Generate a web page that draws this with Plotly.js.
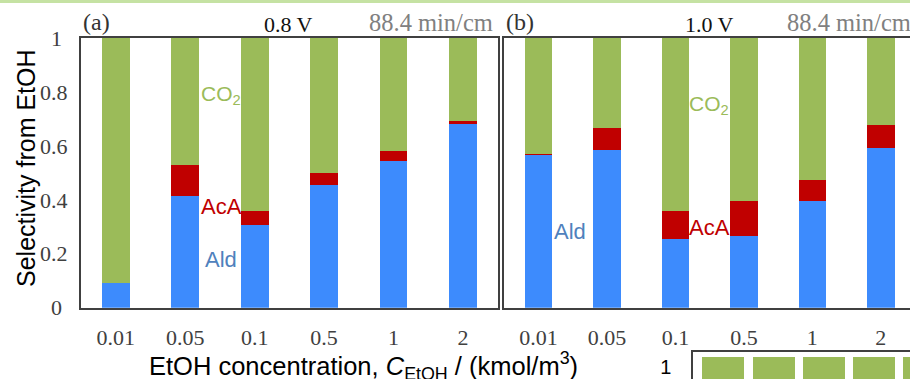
<!DOCTYPE html>
<html>
<head>
<meta charset="utf-8">
<script src="https://cdn.plot.ly/plotly-3.0.1.min.js"></script>
<style>html,body{margin:0;padding:0;background:#fff;}#chart{width:910px;height:379px;}</style>
</head>
<body>
<div id="chart"></div>
<script>
// ---- data ----
const categories = ['0.01', '0.05', '0.1', '0.5', '1', '2'];
// Panel (a) 0.8 V
const ald_a = [0.092, 0.415, 0.305, 0.455, 0.544, 0.681];
const aca_a = [0.000, 0.114, 0.055, 0.043, 0.037, 0.012];
const co2_a = [0.908, 0.471, 0.640, 0.502, 0.419, 0.307];
// Panel (b) 1.0 V
const ald_b = [0.566, 0.585, 0.254, 0.266, 0.397, 0.591];
const aca_b = [0.004, 0.082, 0.106, 0.130, 0.075, 0.088];
const co2_b = [0.430, 0.333, 0.640, 0.604, 0.528, 0.321];
// Partial panel visible at bottom right (only top of stacks visible)
const categories_c = ['0.01', '0.05', '0.1', '0.5', '1'];
const co2_c_top = [1, 1, 1, 1, 1];
const yTickVals = [0, 0.2, 0.4, 0.6, 0.8, 1];
const yTickText = ['0\u2008', '0.2', '0.4', '0.6', '0.8', '1\u2008'];

// ---- style ----
const W = 910, H = 379;
const px = x => x / W;
const py = y => 1 - y / H;
const BLUE = '#3d8bfd', RED = '#c00000', GREEN = '#9bbb59';
const SERIF = 'Liberation Serif, Times New Roman, serif';
const SANS = 'Liberation Sans, Arial, sans-serif';
const AXC = '#404040';

function stack(x, ys, names, colors, xa, ya, width) {
  return ys.map((y, i) => ({
    type: 'bar', x: x, y: y, name: names[i], xaxis: xa, yaxis: ya,
    width: width, marker: {color: colors[i], line: {width: 0}},
    showlegend: false, hoverinfo: 'x+y+name'
  }));
}

const names = ['Ald', 'AcA', 'CO2'];
const colors = [BLUE, RED, GREEN];
const data = [
  ...stack(categories, [ald_a, aca_a, co2_a], names, colors, 'x', 'y', 0.4),
  ...stack(categories, [ald_b, aca_b, co2_b], names, colors, 'x2', 'y2', 0.4),
  {type: 'bar', x: categories_c, y: co2_c_top, name: 'CO2', xaxis: 'x3', yaxis: 'y3',
   width: 0.835, marker: {color: GREEN, line: {width: 0}}, showlegend: false}
];

const yMain = [py(307.7), py(38)];
const tickFont = {family: SERIF, size: 22, color: AXC};

const layout = {
  width: W, height: H,
  margin: {l: 0, r: 0, t: 0, b: 0},
  paper_bgcolor: '#ffffff', plot_bgcolor: 'rgba(0,0,0,0)',
  barmode: 'stack',
  showlegend: false,
  xaxis: {
    domain: [px(81), px(497.7)], range: [-0.5, 5.5], type: 'category',
    showline: true, linecolor: AXC, linewidth: 2, mirror: true,
    showgrid: false, zeroline: false, ticks: '', tickfont: tickFont,
    ticklabelstandoff: 9, anchor: 'y'
  },
  yaxis: {
    domain: yMain, range: [0, 1], tickvals: yTickVals, ticktext: yTickText,
    showline: true, linecolor: AXC, linewidth: 2, mirror: true,
    showgrid: false, zeroline: false, ticks: '', tickfont: tickFont,
    ticklabelstandoff: 7, anchor: 'x'
  },
  xaxis2: {
    domain: [px(504.3), 1], range: [-0.5, 5.426], type: 'category',
    showline: true, linecolor: AXC, linewidth: 2, mirror: true,
    showgrid: false, zeroline: false, ticks: '', tickfont: tickFont,
    ticklabelstandoff: 9, anchor: 'y2'
  },
  yaxis2: {
    domain: yMain, range: [0, 1], tickvals: yTickVals, showticklabels: false,
    showline: true, linecolor: AXC, linewidth: 2, mirror: false,
    showgrid: false, zeroline: false, ticks: '', anchor: 'x2'
  },
  xaxis3: {
    domain: [px(693.3), 1], range: [-0.595, 3.714], type: 'category',
    side: 'top', showline: true, linecolor: AXC, linewidth: 2,
    showgrid: false, zeroline: false, ticks: '', showticklabels: false, anchor: 'y3'
  },
  yaxis3: {
    domain: [0, py(352.3)], range: [0.9, 1.02], tickvals: [1], ticktext: ['1'],
    showline: true, linecolor: AXC, linewidth: 2,
    showgrid: false, zeroline: false, ticks: '',
    tickfont: {family: SANS, size: 20, color: '#000'},
    ticklabelstandoff: 16, ticklabelshift: 10, anchor: 'x3'
  },
  shapes: [
    {type: 'rect', xref: 'paper', yref: 'paper', x0: 0, x1: 1, y0: py(3), y1: 1,
     fillcolor: '#c5e2a3', line: {width: 0}, layer: 'above'}
  ],
  annotations: [
    {text: '(a)', x: px(96), y: py(22), font: {family: SERIF, size: 24, color: '#333'}},
    {text: '0.8 V', x: px(288), y: py(24), font: {family: SERIF, size: 22, color: '#111'}},
    {text: '88.4 min/cm', x: px(367), xanchor: 'left', y: py(22), font: {family: SERIF, size: 24.5, color: '#808080'}},
    {text: '(b)', x: px(520), y: py(22), font: {family: SERIF, size: 24, color: '#333'}},
    {text: '1.0 V', x: px(709), y: py(24), font: {family: SERIF, size: 22, color: '#111'}},
    {text: '88.4 min/cm', x: px(785), xanchor: 'left', y: py(22), font: {family: SERIF, size: 24.5, color: '#808080'}},
    {text: 'CO<sub>2</sub>', x: px(221), y: py(95), font: {family: SANS, size: 21, color: GREEN}},
    {text: 'AcA', x: px(221), y: py(206), font: {family: SANS, size: 22, color: RED}},
    {text: 'Ald', x: px(221), y: py(259), font: {family: SANS, size: 22, color: '#4f81bd'}},
    {text: 'CO<sub>2</sub>', x: px(709), y: py(105), font: {family: SANS, size: 21, color: GREEN}},
    {text: 'Ald', x: px(570), y: py(231), font: {family: SANS, size: 22, color: '#4f81bd'}},
    {text: 'AcA', x: px(709.5), y: py(227), font: {family: SANS, size: 22, color: RED}},
    {text: 'Selectivity from EtOH', x: px(26), y: py(168), textangle: -90,
     font: {family: SANS, size: 25, color: '#000'}},
    {text: 'EtOH concentration, <i>C</i><sub>EtOH</sub> / (kmol/m<sup>3</sup>)', x: px(363.5), y: py(366),
     font: {family: SANS, size: 25.5, color: '#000'}}
  ].map(a => Object.assign({xref: 'paper', yref: 'paper', showarrow: false, xanchor: 'center', yanchor: 'middle'}, a))
};

Plotly.newPlot('chart', data, layout, {staticPlot: true, displayModeBar: false});
</script>
</body>
</html>
